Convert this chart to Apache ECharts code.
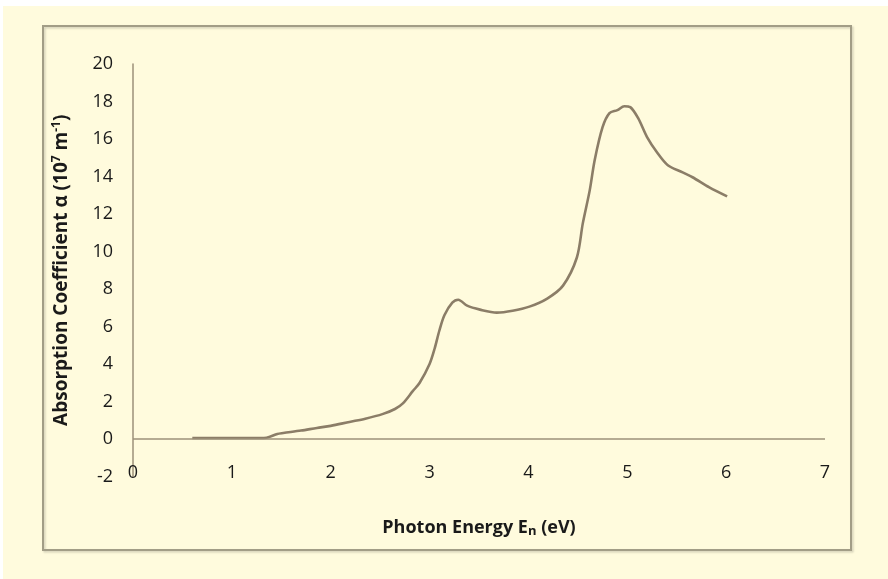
<!DOCTYPE html>
<html>
<head>
<meta charset="utf-8">
<script src="https://cdn.jsdelivr.net/npm/echarts@6/dist/echarts.min.js"></script>
<style>
html,body{margin:0;padding:0;background:#ffffff;}
#wrap{position:relative;width:888px;height:579px;overflow:hidden;}
#bg{position:absolute;left:3px;top:6px;right:0;bottom:0;background:#FFFBDD;}
#c{position:absolute;left:0;top:0;width:888px;height:579px;}
</style>
</head>
<body>
<div id="wrap"><div id="bg"></div><div id="c"></div></div>
<script>
// Photon energy (eV)
var energy = [0.6, 0.8, 1.0, 1.2, 1.35, 1.46, 1.52, 1.7, 1.86, 2.0, 2.19, 2.35, 2.53, 2.65, 2.73, 2.83, 2.9, 3.0, 3.05, 3.1, 3.15, 3.23, 3.29, 3.38, 3.51, 3.68, 3.84, 4.01, 4.19, 4.35, 4.49, 4.55, 4.62, 4.67, 4.75, 4.82, 4.9, 4.97, 5.03, 5.11, 5.2, 5.3, 5.41, 5.56, 5.66, 5.83, 6.01];
// Absorption coefficient (10^7 m^-1)
var alpha = [0.05, 0.05, 0.05, 0.05, 0.07, 0.27, 0.32, 0.45, 0.59, 0.7, 0.91, 1.08, 1.34, 1.6, 1.9, 2.55, 3.0, 4.0, 4.8, 5.8, 6.6, 7.27, 7.43, 7.11, 6.9, 6.74, 6.84, 7.06, 7.49, 8.18, 9.68, 11.5, 13.26, 14.87, 16.63, 17.38, 17.54, 17.75, 17.7, 17.11, 16.1, 15.29, 14.6, 14.22, 13.96, 13.42, 12.94];
var xTicks = [0, 7, 1];   // min, max, interval
var yTicks = [-2, 20, 2]; // min, max, interval

var points = energy.map(function (e, i) { return [e, alpha[i]]; });
var axisColor = '#9C9079';
var textColor = '#1a1a1a';
var font = '"Open Sans", Lato, sans-serif';

var chart = echarts.init(document.getElementById('c'), null, {renderer: 'canvas'});
chart.setOption({
  animation: false,
  grid: {left: 133, right: 63, top: 64, bottom: 102.5, containLabel: false},
  graphic: [{
    type: 'rect',
    shape: {x: 43, y: 26, width: 808, height: 524},
    style: {fill: 'none', stroke: '#A29D86', lineWidth: 2, shadowColor: 'rgba(0,0,0,0.18)', shadowBlur: 2, shadowOffsetX: 1.5, shadowOffsetY: 1.5},
    silent: true
  }],
  xAxis: {
    type: 'value',
    min: xTicks[0], max: xTicks[1], interval: xTicks[2],
    axisLine: {show: false},
    axisTick: {show: false},
    splitLine: {show: false},
    axisLabel: {color: textColor, fontFamily: font, fontSize: 18, margin: -13},
    name: '{a|Photon Energy E}{s|n}{a| (eV)}',
    nameLocation: 'middle',
    nameGap: 41,
    nameTextStyle: {
      rich: {
        a: {fontFamily: font, fontWeight: 'bold', fontSize: 18, color: textColor},
        s: {fontFamily: font, fontWeight: 'bold', fontSize: 13, color: textColor, padding: [7, 0, 0, 0]}
      }
    }
  },
  yAxis: {
    type: 'value',
    min: yTicks[0], max: yTicks[1], interval: yTicks[2],
    axisLine: {show: true, onZero: false, lineStyle: {color: axisColor, width: 1.5}},
    axisTick: {show: false},
    splitLine: {show: false},
    axisLabel: {color: textColor, fontFamily: font, fontSize: 18, margin: 20, padding: [5, 0, 0, 0]},
    name: '{a|Absorption Coefficient α (10}{p|7}{a| m}{p|-1}{a|)}',
    nameLocation: 'middle',
    nameGap: 60,
    nameTextStyle: {
      rich: {
        a: {fontFamily: font, fontWeight: 'bold', fontSize: 19, color: textColor},
        p: {fontFamily: font, fontWeight: 'bold', fontSize: 12, color: textColor, padding: [0, 0, 10, 0]}
      }
    }
  },
  series: [{
    type: 'line',
    data: points,
    showSymbol: false,
    smooth: 0.3,
    lineStyle: {color: '#8B7D67', width: 2.6},
    markLine: {
      silent: true,
      symbol: 'none',
      label: {show: false},
      lineStyle: {color: axisColor, width: 1.5, type: 'solid'},
      data: [{yAxis: 0}]
    },
    z: 3
  }]
});
</script>
</body>
</html>
